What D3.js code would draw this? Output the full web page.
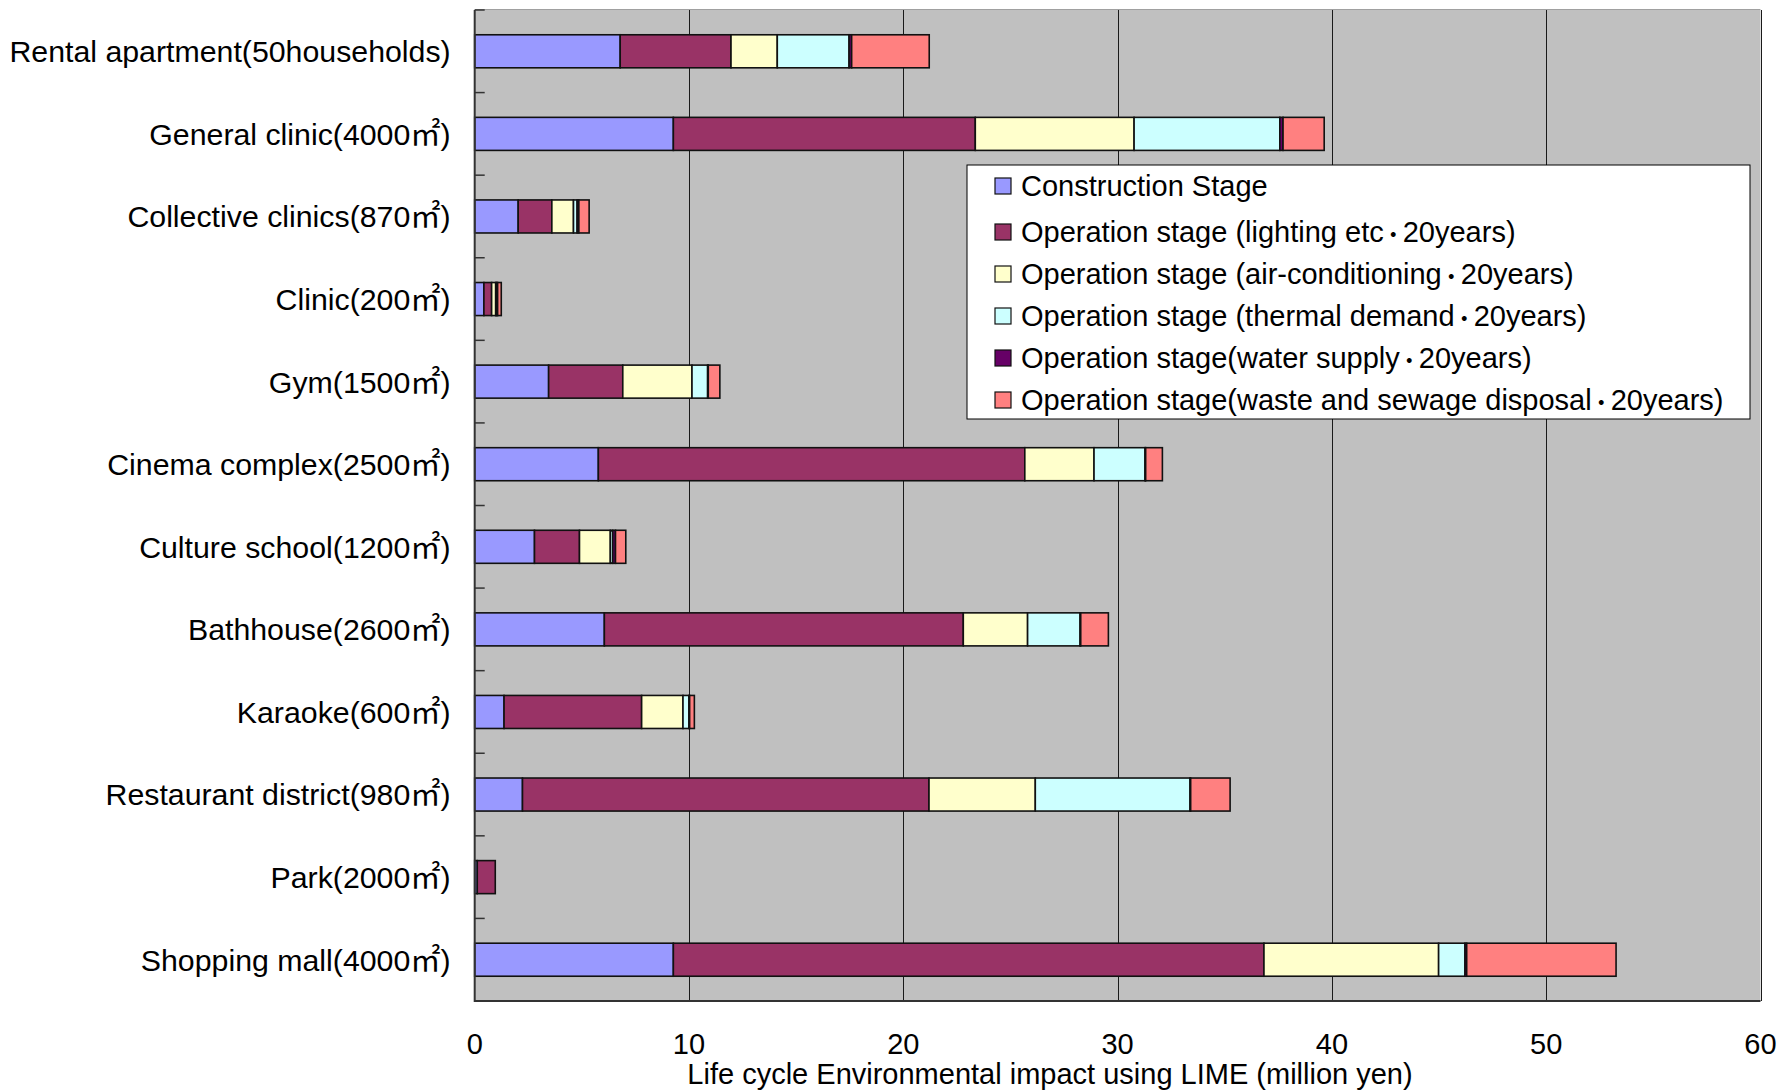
<!DOCTYPE html>
<html>
<head>
<meta charset="utf-8">
<script src="https://cdn.jsdelivr.net/npm/d3@7"></script>
<style>
  html, body { margin: 0; padding: 0; background: #fff; }
  svg { display: block; }
  text { font-family: "Liberation Sans", Arial, "Noto Sans CJK JP", sans-serif; fill: #000; }
</style>
</head>
<body>
<svg id="chart" width="1777" height="1091"></svg>
<script>
// Facility types (top to bottom)
const categories = [
  "Rental apartment(50households)",
  "General clinic(4000㎡)",
  "Collective clinics(870㎡)",
  "Clinic(200㎡)",
  "Gym(1500㎡)",
  "Cinema complex(2500㎡)",
  "Culture school(1200㎡)",
  "Bathhouse(2600㎡)",
  "Karaoke(600㎡)",
  "Restaurant district(980㎡)",
  "Park(2000㎡)",
  "Shopping mall(4000㎡)"
];

// Life cycle impact by stage (million yen)
const construction = [6.79, 9.27, 2.03, 0.43, 3.45, 5.77, 2.79, 6.05, 1.37, 2.23, 0.12, 9.27];
const lighting     = [5.17, 14.09, 1.57, 0.36, 3.46, 19.90, 2.10, 16.75, 6.42, 18.97, 0.84, 27.56];
const airCond      = [2.16, 7.41, 1.01, 0.19, 3.23, 3.23, 1.44, 3.00, 1.93, 4.96, 0, 8.15];
const thermal      = [3.35, 6.80, 0.17, 0.04, 0.73, 2.38, 0.11, 2.45, 0.28, 7.22, 0, 1.23];
const waterSupply  = [0.12, 0.15, 0.08, 0.05, 0.03, 0.03, 0.13, 0.03, 0.03, 0.03, 0, 0.08];
const wasteSewage  = [3.62, 1.92, 0.48, 0.17, 0.54, 0.78, 0.48, 1.29, 0.22, 1.84, 0, 6.97];

const seriesNames = [
  "Construction Stage",
  "Operation stage (lighting etc・20years)",
  "Operation stage (air-conditioning・20years)",
  "Operation stage (thermal demand・20years)",
  "Operation stage(water supply・20years)",
  "Operation stage(waste and sewage disposal・20years)"
];
const seriesColors = ["#9999FF", "#993366", "#FFFFCC", "#CCFFFF", "#660066", "#FF8080"];

const xTicks = [0, 10, 20, 30, 40, 50, 60];
const xTitle = "Life cycle Environmental impact using LIME (million yen)";

// ---- layout ----
const svg = d3.select("#chart");
const plot = { left: 474.7, top: 10, right: 1760.5, bottom: 1001 };

const x = d3.scaleLinear().domain([0, 60]).range([plot.left, plot.right]);
const y = d3.scaleBand().domain(categories)
  .range([plot.top, plot.bottom]).paddingInner(0.6).paddingOuter(0.3);

const keys = ["construction", "lighting", "airCond", "thermal", "waterSupply", "wasteSewage"];
const rows = categories.map((c, i) => ({
  category: c,
  construction: construction[i], lighting: lighting[i], airCond: airCond[i],
  thermal: thermal[i], waterSupply: waterSupply[i], wasteSewage: wasteSewage[i]
}));
const stacked = d3.stack().keys(keys)(rows);

// plot background
svg.append("rect")
  .attr("x", plot.left).attr("y", plot.top)
  .attr("width", plot.right - plot.left).attr("height", plot.bottom - plot.top)
  .attr("fill", "#C0C0C0");

// vertical gridlines
svg.append("g")
  .selectAll("line")
  .data(xTicks.slice(1))
  .join("line")
  .attr("x1", d => Math.round(x(d)) + 0.5).attr("x2", d => Math.round(x(d)) + 0.5)
  .attr("y1", plot.top).attr("y2", plot.bottom)
  .attr("stroke", "#1a1a1a").attr("stroke-width", 1);

// top border
svg.append("line")
  .attr("x1", plot.left).attr("x2", plot.right)
  .attr("y1", plot.top - 0.5).attr("y2", plot.top - 0.5)
  .attr("stroke", "#a0a0a0").attr("stroke-width", 1);

// stacked bars
svg.append("g")
  .selectAll("g")
  .data(stacked)
  .join("g")
  .attr("fill", (d, i) => seriesColors[i])
  .selectAll("rect")
  .data(d => d.map(s => ({ s, cat: s.data.category })))
  .join("rect")
  .filter(d => d.s[1] - d.s[0] > 0)
  .attr("x", d => x(d.s[0]))
  .attr("y", d => y(d.cat))
  .attr("width", d => x(d.s[1]) - x(d.s[0]))
  .attr("height", y.bandwidth())
  .attr("stroke", "#111")
  .attr("stroke-width", 1.6);

// left axis line with inward tick marks at band boundaries
const yTickPos = d3.range(0, categories.length + 1).map(k => plot.top + k * y.step());
svg.append("g")
  .selectAll("line")
  .data(yTickPos)
  .join("line")
  .attr("x1", plot.left).attr("x2", plot.left + 10)
  .attr("y1", d => d).attr("y2", d => d)
  .attr("stroke", "#333").attr("stroke-width", 1.5);

svg.append("line")
  .attr("x1", plot.left).attr("x2", plot.left)
  .attr("y1", plot.top).attr("y2", plot.bottom + 1)
  .attr("stroke", "#333").attr("stroke-width", 2);

// bottom axis line
svg.append("line")
  .attr("x1", plot.left).attr("x2", plot.right)
  .attr("y1", plot.bottom).attr("y2", plot.bottom)
  .attr("stroke", "#333").attr("stroke-width", 2);

// category labels (the ㎡ unit drawn with a CJK face)
const labels = svg.append("g")
  .selectAll("text")
  .data(categories)
  .join("text")
  .attr("x", plot.left - 24)
  .attr("y", d => y(d) + y.bandwidth() / 2)
  .attr("dy", "0.36em")
  .attr("text-anchor", "end")
  .style("font-size", "30.3px");
labels.each(function (d) {
  const t = d3.select(this);
  const parts = d.split("㎡");
  t.append("tspan").text(parts[0]);
  if (parts.length > 1) {
    t.append("tspan").style("font-family", "'Noto Sans CJK JP'").text("㎡");
    t.append("tspan").text(parts[1]);
  }
});

// x tick labels
svg.append("g")
  .selectAll("text")
  .data(xTicks)
  .join("text")
  .attr("x", d => x(d))
  .attr("y", 1044)
  .attr("dy", "0.36em")
  .attr("text-anchor", "middle")
  .style("font-size", "29px")
  .text(d => d);

// x axis title
svg.append("text")
  .attr("x", 1050).attr("y", 1074)
  .attr("dy", "0.36em")
  .attr("text-anchor", "middle")
  .style("font-size", "29px")
  .text(xTitle);

// legend
const legend = svg.append("g").attr("transform", "translate(967,165)");
legend.append("rect")
  .attr("width", 783).attr("height", 254)
  .attr("fill", "#fff").attr("stroke", "#000").attr("stroke-width", 1);
const legendY = [21, 67, 109, 151, 193, 235];
const item = legend.selectAll("g.item")
  .data(seriesNames)
  .join("g")
  .attr("class", "item")
  .attr("transform", (d, i) => `translate(28,${legendY[i]})`);
item.append("rect")
  .attr("x", 0).attr("y", -8).attr("width", 16).attr("height", 16)
  .attr("fill", (d, i) => seriesColors[i])
  .attr("stroke", "#111").attr("stroke-width", 1.2);
const itemText = item.append("text")
  .attr("x", 26).attr("y", 0).attr("dy", "0.36em")
  .style("font-size", "29px");
// the middle dot is set smaller so it sits tight between its neighbours
itemText.each(function (d) {
  const t = d3.select(this);
  const parts = d.split("・");
  t.append("tspan").text(parts[0]);
  if (parts.length > 1) {
    t.append("tspan").style("font-size", "19px").style("font-weight", "bold").text("・");
    t.append("tspan").text(parts[1]);
  }
});
</script>
</body>
</html>
